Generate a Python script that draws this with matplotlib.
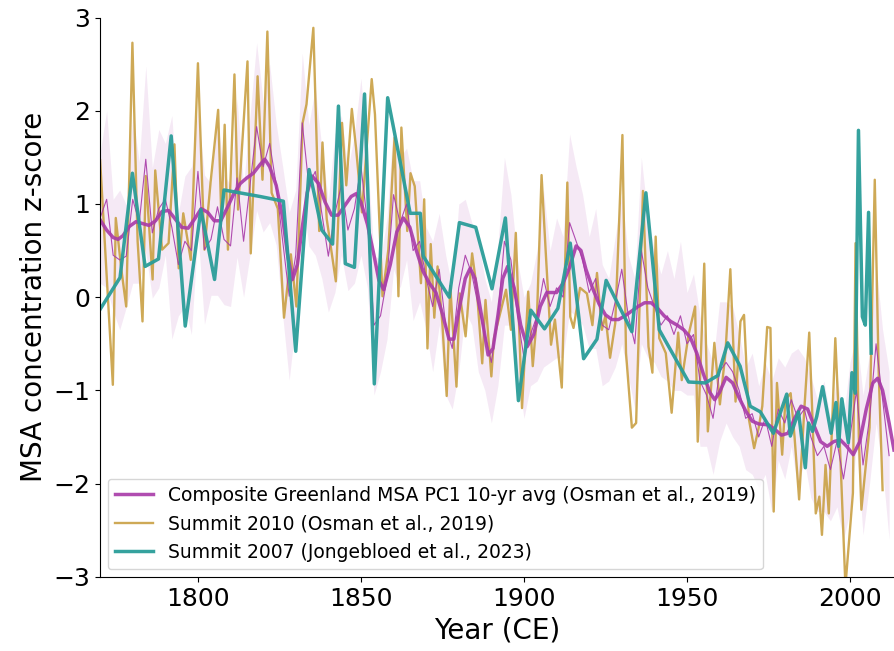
import matplotlib
matplotlib.use("Agg")
import matplotlib.pyplot as plt
import numpy as np

# Summit 2010 (Osman et al., 2019) - annual
summit2010_years = [1770.0, 1773.9, 1774.8, 1776.5, 1778.0, 1779.9, 1781.5, 1783.0, 1784.0, 1786.1,
                    1786.9, 1789.0, 1791.0, 1792.8, 1794.1, 1795.5, 1797.8, 1800.0, 1802.0, 1803.9,
                    1806.2, 1807.2, 1808.2, 1809.2, 1811.2, 1812.3, 1813.5, 1815.2, 1816.2, 1818.3,
                    1819.8, 1821.3, 1822.6, 1824.5, 1826.4, 1828.5, 1830.2, 1832.1, 1833.3, 1835.4,
                    1837.2, 1838.2, 1839.5, 1842.3, 1844.2, 1845.5, 1847.2, 1848.5, 1850.3, 1853.3,
                    1854.3, 1856.6, 1858.4, 1860.3, 1861.5, 1862.4, 1864.2, 1865.2, 1866.5, 1868.4,
                    1869.4, 1870.4, 1871.4, 1872.5, 1873.5, 1875.0, 1876.3, 1877.4, 1879.3, 1880.3,
                    1882.1, 1884.1, 1885.5, 1887.2, 1888.2, 1890.0, 1890.8, 1892.5, 1894.5, 1896.0,
                    1897.5, 1899.4, 1901.3, 1902.7, 1904.0, 1905.4, 1906.7, 1908.3, 1909.5, 1911.6,
                    1913.3, 1914.2, 1915.2, 1917.2, 1919.3, 1921.0, 1922.4, 1923.9, 1925.0, 1926.4,
                    1928.0, 1930.2, 1931.3, 1933.1, 1934.4, 1936.5, 1938.2, 1939.4, 1940.4, 1941.5,
                    1943.5, 1945.3, 1947.3, 1948.4, 1950.5, 1952.5, 1953.3, 1955.3, 1956.4, 1958.4,
                    1960.1, 1961.8, 1963.3, 1964.9, 1966.4, 1967.5, 1969.0, 1970.6, 1972.0, 1973.1,
                    1974.6, 1975.6, 1976.6, 1977.6, 1979.2, 1980.2, 1981.8, 1983.0, 1984.4, 1986.0,
                    1987.5, 1988.5, 1989.5, 1990.6, 1991.4, 1992.5, 1993.5, 1995.5, 1996.7, 1998.6,
                    2000.9, 2001.7, 2002.7, 2003.5, 2004.8, 2006.0, 2007.6, 2008.8, 2010.0]
summit2010_vals = [1.47, -0.94, 0.85, 0.30, -0.10, 2.73, 0.60, -0.26, 1.30, 0.19,
                   1.36, 0.51, 0.58, 1.64, 0.31, 0.90, 0.40, 2.51, 0.51, 1.24,
                   2.01, 0.83, 1.85, 0.51, 2.39, 0.94, 1.60, 2.53, 0.47, 2.37,
                   1.26, 2.85, 1.12, 0.95, -0.22, 0.46, -0.10, 1.87, 2.07, 2.89,
                   0.71, 1.66, 0.84, 0.17, 1.87, 1.20, 2.02, 1.60, 0.91, 2.34,
                   1.96, 0.01, 0.51, 1.71, 0.01, 1.82, 0.71, 1.33, 1.19, 0.15,
                   1.05, -0.55, 0.57, -0.22, 0.33, -0.30, -1.06, 0.12, -0.96, 0.04,
                   -0.42, 0.47, 0.10, -0.71, -0.03, -0.85, -0.44, -0.20, 0.08, -0.35,
                   0.69, -1.19, 0.06, -0.74, -0.20, 1.31, 0.47, -0.51, -0.24, -0.97,
                   1.23, -0.21, -0.33, 0.10, 0.04, -0.30, 0.26, -0.35, -0.20, -0.65,
                   -0.28, 1.74, -0.60, -1.40, -1.35, 1.14, -0.53, -0.81, 0.65, -0.44,
                   -0.60, -1.24, -0.38, -0.89, -0.40, -0.10, -1.55, 0.36, -1.44, -0.49,
                   -1.15, -0.60, 0.30, -1.12, -0.26, -0.19, -1.31, -1.62, -1.40, -1.17,
                   -0.32, -0.33, -2.30, -0.92, -1.69, -1.10, -1.03, -1.50, -2.17, -1.20,
                   -0.38, -1.30, -2.32, -2.14, -2.55, -1.80, -2.32, -0.44, -1.40, -3.10,
                   -2.10, 0.58, -1.50, -2.28, -1.82, -1.40, 1.26, -0.80, -2.07]

# Summit 2007 (Jongebloed et al., 2023) - irregular sampling
summit2007_years = [1770.0, 1776.1, 1779.9, 1783.8, 1787.9, 1791.8, 1796.1, 1800.9, 1805.1, 1808.0,
                    1819.1, 1826.2, 1830.0, 1834.1, 1838.0, 1841.3, 1843.1, 1845.2, 1848.0, 1851.1,
                    1854.1, 1858.2, 1865.1, 1868.2, 1869.1, 1877.1, 1880.2, 1885.2, 1890.2, 1894.3,
                    1898.3, 1902.1, 1906.3, 1910.4, 1914.2, 1918.3, 1922.4, 1925.2, 1933.1, 1937.4,
                    1941.5, 1950.5, 1955.6, 1959.5, 1962.5, 1966.3, 1969.4, 1972.5, 1976.5, 1980.6,
                    1981.7, 1984.2, 1986.3, 1987.3, 1988.5, 1989.8, 1991.6, 1994.2, 1995.7, 1996.5,
                    1997.5, 1999.5, 2000.6, 2001.6, 2002.6, 2003.8, 2004.7, 2005.7, 2006.5]
summit2007_vals = [-0.13, 0.21, 1.33, 0.33, 0.41, 1.73, -0.31, 0.94, 0.19, 1.15,
                   1.08, 1.03, -0.58, 1.37, 0.72, 0.57, 2.05, 0.36, 0.32, 2.18,
                   -0.93, 2.14, 0.90, 0.90, 0.44, 0.00, 0.80, 0.75, 0.09, 0.85,
                   -1.11, -0.14, -0.34, -0.12, 0.58, -0.66, -0.45, 0.18, -0.37, 1.12,
                   -0.35, -0.91, -0.92, -0.84, -0.49, -0.74, -1.17, -1.23, -1.46, -1.04,
                   -1.49, -1.23, -1.83, -1.35, -1.44, -1.28, -0.96, -1.46, -1.13, -1.60,
                   -1.09, -1.56, -0.81, -1.03, 1.79, -0.21, -0.30, 0.91, -0.60]

# Composite Greenland MSA PC1 - annual values (thin line) and spread (shading)
comp_years = list(range(1770, 2014, 2))
comp_vals = [0.85, 1.05, 0.45, 0.40, 0.44, 1.05, 0.80, 1.48, 0.69, 0.95,
             1.05, 0.75, 0.35, 0.60, 0.50, 1.35, 0.51, 0.62, 0.97, 0.62,
             0.55, 1.28, 0.60, 1.21, 1.83, 1.40, 1.65, 1.21, 0.60, 0.01,
             0.45, 1.87, 1.20, 1.35, 0.90, 0.44, 0.90, 1.20, 0.72, 0.95,
             1.40, 0.80, -0.30, -0.20, 0.20, 1.10, 0.80, 1.00, 0.50, 0.60,
             0.20, -0.10, 0.30, -0.30, -0.55, 0.10, 0.45, 0.25, -0.10, -0.40,
             -0.70, -0.20, 0.60, 0.40, -0.20, -0.65, -0.40, -0.20, 0.20, -0.10,
             0.10, 0.00, 0.80, 0.60, 0.40, 0.05, 0.20, -0.30, -0.35, -0.05,
             0.30, -0.20, -0.50, 0.50, 0.10, -0.10, -0.30, -0.20, -0.40, -0.20,
             -0.50, -0.40, -0.90, -1.05, -1.30, -0.80, -0.70, -0.80, -1.00, -1.30,
             -1.25, -1.50, -1.30, -1.60, -1.20, -1.35, -1.10, -1.30, -1.20, -1.50,
             -1.70, -1.60, -1.85, -1.55, -1.95, -1.50, -1.00, -1.80, -1.30, -0.50,
             -1.10, -1.70]
comp_spread = [0.70, 0.95, 0.60, 0.75, 0.55, 0.90, 0.65, 1.00, 0.70, 0.85,
               0.60, 1.20, 0.55, 0.70, 0.90, 0.65, 0.80, 0.60, 0.95, 0.70,
               0.65, 0.85, 0.60, 0.75, 0.90, 0.70, 0.85, 0.65, 0.80, 0.90,
               0.70, 0.75, 0.65, 0.90, 0.70, 0.60, 0.85, 0.75, 0.65, 0.80,
               0.95, 0.70, 0.75, 0.60, 0.65, 0.80, 0.70, 0.60, 0.75, 0.65,
               0.55, 0.70, 0.60, 0.75, 0.65, 0.90, 0.60, 0.55, 0.70, 0.60,
               0.65, 0.75, 0.90, 0.70, 0.60, 0.65, 0.55, 0.70, 0.95, 0.60,
               0.75, 0.65, 0.95, 0.80, 0.70, 0.60, 0.75, 0.65, 0.55, 0.70,
               0.80, 0.65, 0.70, 1.00, 0.75, 0.60, 0.55, 0.70, 0.60, 0.80,
               0.55, 0.65, 0.70, 0.55, 0.60, 0.75, 0.65, 0.70, 0.60, 0.55,
               0.65, 0.55, 0.60, 0.70, 0.55, 0.60, 0.50, 0.75, 0.55, 0.65,
               0.60, 0.70, 0.55, 0.70, 0.65, 0.80, 0.60, 0.75, 0.70, 0.85,
               0.75, 0.90]

# Composite 10-yr average (thick line)
avg_years = [1770, 1772, 1774, 1775.5, 1777, 1779, 1781, 1783, 1785, 1787,
             1789, 1791, 1793, 1795, 1797, 1799, 1801, 1803, 1805, 1807,
             1809, 1811, 1813, 1815, 1817, 1819, 1820.5, 1822, 1824, 1826,
             1827.5, 1829, 1830.5, 1832, 1833.5, 1835, 1837, 1839, 1841, 1843,
             1845, 1847, 1848.5, 1850, 1852, 1854, 1855.5, 1857, 1859, 1861,
             1863, 1865, 1867, 1869, 1871, 1873, 1875, 1877, 1878.5, 1880,
             1882, 1883.5, 1885, 1887, 1889, 1890.5, 1892, 1893.5, 1895, 1897,
             1899, 1901, 1903, 1905, 1907, 1910, 1912, 1914, 1916, 1917.5,
             1919, 1921, 1923, 1925, 1927, 1929, 1931, 1933, 1935, 1937,
             1939, 1941, 1943, 1945, 1947, 1949, 1951, 1953, 1955, 1957,
             1958.5, 1960, 1962, 1964, 1966, 1968, 1970, 1972, 1975, 1977,
             1979, 1981, 1983, 1985, 1987, 1989, 1991, 1993, 1995, 1997,
             1999, 2001, 2003, 2005, 2007, 2008.5, 2010, 2012, 2013.5]
avg_vals = [0.83, 0.72, 0.64, 0.62, 0.66, 0.76, 0.81, 0.79, 0.77, 0.82,
            0.92, 0.93, 0.84, 0.75, 0.74, 0.84, 0.95, 0.91, 0.82, 0.82,
            0.96, 1.11, 1.22, 1.28, 1.33, 1.42, 1.48, 1.40, 1.20, 0.85,
            0.45, 0.19, 0.35, 0.75, 1.12, 1.30, 1.22, 1.02, 0.88, 0.88,
            0.98, 1.08, 1.11, 1.02, 0.78, 0.45, 0.18, 0.08, 0.35, 0.70,
            0.85, 0.75, 0.50, 0.28, 0.15, 0.05, -0.18, -0.45, -0.45, -0.15,
            0.20, 0.31, 0.20, -0.20, -0.62, -0.55, -0.20, 0.20, 0.33, 0.10,
            -0.30, -0.53, -0.40, -0.10, 0.05, 0.05, 0.15, 0.32, 0.55, 0.50,
            0.30, 0.10, -0.07, -0.19, -0.24, -0.24, -0.20, -0.15, -0.10, -0.06,
            -0.06, -0.12, -0.20, -0.26, -0.30, -0.35, -0.43, -0.60, -0.82, -1.02,
            -1.10, -1.02, -0.86, -0.92, -1.08, -1.22, -1.33, -1.36, -1.37, -1.42,
            -1.48, -1.46, -1.30, -1.17, -1.20, -1.38, -1.55, -1.60, -1.55, -1.53,
            -1.60, -1.69, -1.55, -1.20, -0.92, -0.87, -1.00, -1.35, -1.64]

purple = "#a83aa8"
gold = "#c9a043"
teal = "#2a9d99"

fig = plt.figure(figsize=(8.94, 6.51), dpi=100)
ax = fig.add_axes([0.112, 0.114, 0.888, 0.859])

cv = np.array(comp_vals)
cs = np.array(comp_spread)
ax.fill_between(comp_years, cv - cs, cv + cs, color=purple, alpha=0.11, linewidth=0)
ax.plot(summit2010_years, summit2010_vals, color=gold, lw=1.7, alpha=0.9,
        label="Summit 2010 (Osman et al., 2019)")
ax.plot(comp_years, comp_vals, color=purple, lw=0.8, alpha=0.9)
ax.plot(avg_years, avg_vals, color=purple, lw=2.5, alpha=0.9,
        label="Composite Greenland MSA PC1 10-yr avg (Osman et al., 2019)")
ax.plot(summit2007_years, summit2007_vals, color=teal, lw=2.5, alpha=0.95,
        label="Summit 2007 (Jongebloed et al., 2023)")

ax.set_xlim(1770, 2013.5)
ax.set_ylim(-3, 3)
ax.set_xticks([1800, 1850, 1900, 1950, 2000])
ax.set_yticks([-3, -2, -1, 0, 1, 2, 3])
ax.tick_params(labelsize=18)
ax.set_xlabel("Year (CE)", fontsize=20)
ax.set_ylabel("MSA concentration z-score", fontsize=20)
ax.spines["top"].set_visible(False)
ax.spines["right"].set_visible(False)

handles, labels = ax.get_legend_handles_labels()
order = [1, 0, 2]
ax.legend([handles[i] for i in order], [labels[i] for i in order],
          loc="lower left", fontsize=13.5, borderaxespad=0.4)

fig.savefig("out.png", dpi=100)
